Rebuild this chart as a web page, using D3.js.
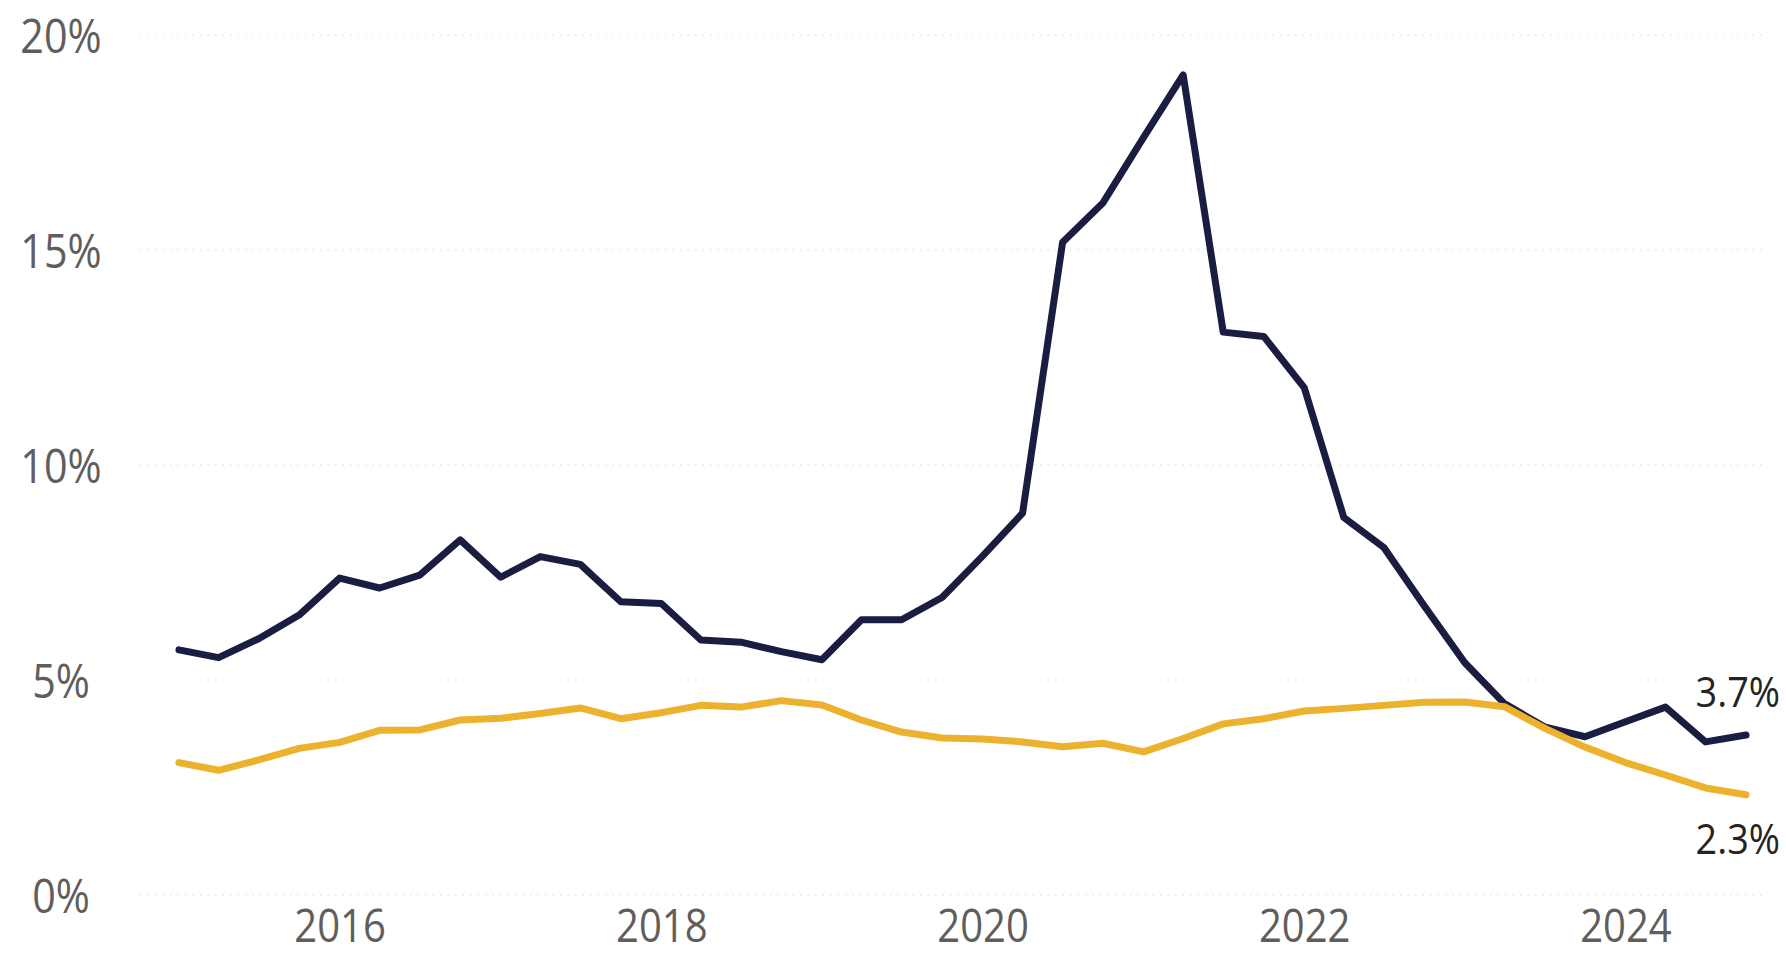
<!DOCTYPE html>
<html>
<head>
<meta charset="utf-8">
<script src="https://cdn.jsdelivr.net/npm/d3@7"></script>
<style>
  html, body { margin: 0; padding: 0; background: #fff; }
  svg { display: block; font-family: "Open Sans", "Noto Sans", sans-serif; }
</style>
</head>
<body>
<script>
// quarterly observations, start of each quarter
const quarters = [
  "2015-01-01", "2015-04-01", "2015-07-01", "2015-10-01",
  "2016-01-01", "2016-04-01", "2016-07-01", "2016-10-01",
  "2017-01-01", "2017-04-01", "2017-07-01", "2017-10-01",
  "2018-01-01", "2018-04-01", "2018-07-01", "2018-10-01",
  "2019-01-01", "2019-04-01", "2019-07-01", "2019-10-01",
  "2020-01-01", "2020-04-01", "2020-07-01", "2020-10-01",
  "2021-01-01", "2021-04-01", "2021-07-01", "2021-10-01",
  "2022-01-01", "2022-04-01", "2022-07-01", "2022-10-01",
  "2023-01-01", "2023-04-01", "2023-07-01", "2023-10-01",
  "2024-01-01", "2024-04-01", "2024-07-01", "2024-10-01"
];

// navy series (%)
const navyValues = [
  5.70, 5.52, 5.96, 6.51, 7.37, 7.14, 7.44, 8.26,
  7.39, 7.87, 7.69, 6.82, 6.78, 5.93, 5.88, 5.66,
  5.47, 6.40, 6.40, 6.92, 7.88, 8.88, 15.18, 16.10,
  17.62, 19.07, 13.09, 12.99, 11.80, 8.78, 8.08, 6.72,
  5.40, 4.45, 3.91, 3.68, 4.03, 4.37, 3.56, 3.72
];

// gold series (%)
const goldValues = [
  3.08, 2.90, 3.14, 3.41, 3.55, 3.83, 3.84, 4.07,
  4.11, 4.22, 4.35, 4.10, 4.24, 4.41, 4.37, 4.52,
  4.42, 4.07, 3.79, 3.65, 3.63, 3.56, 3.45, 3.53,
  3.33, 3.64, 3.98, 4.10, 4.28, 4.34, 4.41, 4.48,
  4.49, 4.38, 3.88, 3.44, 3.08, 2.79, 2.49, 2.33
];

const yTicks = [0, 5, 10, 15, 20];

const width = 1786, height = 959;
const parse = d3.timeParse("%Y-%m-%d");
const dates = quarters.map(parse);

const svg = d3.select("body")
  .append("svg")
  .attr("width", width)
  .attr("height", height);

const x = d3.scaleTime()
  .domain(d3.extent(dates))
  .range([179, 1746]);

const y = d3.scaleLinear()
  .domain([0, 20])
  .range([895, 35]);

// faint dotted gridlines
svg.append("g")
  .selectAll("line")
  .data(yTicks)
  .join("line")
  .attr("x1", 140)
  .attr("x2", 1765)
  .attr("y1", d => y(d))
  .attr("y2", d => y(d))
  .attr("stroke", "#e8e8e8")
  .attr("stroke-width", 1.5)
  .attr("stroke-dasharray", "1.5,6");

// y axis
const yAxis = svg.append("g")
  .attr("transform", "translate(61,0)")
  .call(d3.axisLeft(y).tickValues(yTicks).tickSize(0).tickPadding(0)
    .tickFormat(d => d + "%"));
yAxis.select(".domain").remove();
yAxis.selectAll("text")
  .attr("text-anchor", "middle")
  .attr("dy", "0.36em")
  .attr("transform", "scale(0.86,1)")
  .style("font-size", "48px")
  .style("font-family", "'Open Sans', 'Noto Sans', sans-serif")
  .attr("fill", "#605e5c");

// x axis
const xAxis = svg.append("g")
  .attr("transform", `translate(0,${y(0)})`)
  .call(d3.axisBottom(x).ticks(d3.timeYear.every(2)).tickSize(0).tickPadding(15)
    .tickFormat(d3.timeFormat("%Y")));
xAxis.select(".domain").remove();
xAxis.selectAll("text")
  .attr("transform", "scale(0.89,1)")
  .style("font-size", "45px")
  .style("font-family", "'Open Sans', 'Noto Sans', sans-serif")
  .attr("fill", "#605e5c");

const line = d3.line()
  .x((d, i) => x(dates[i]))
  .y(d => y(d));

svg.append("path")
  .datum(navyValues)
  .attr("fill", "none")
  .attr("stroke", "#1a1c42")
  .attr("stroke-width", 7)
  .attr("stroke-linejoin", "round")
  .attr("stroke-linecap", "round")
  .attr("d", line);

svg.append("path")
  .datum(goldValues)
  .attr("fill", "none")
  .attr("stroke", "#ecb22e")
  .attr("stroke-width", 7)
  .attr("stroke-linejoin", "round")
  .attr("stroke-linecap", "round")
  .attr("d", line);

// end labels
const fmt = d => d3.format(".1f")(d) + "%";
const last = dates.length - 1;
const endLabels = [
  { v: navyValues[last], off: -43 },
  { v: goldValues[last], off: 44 }
];

svg.append("g")
  .selectAll("g")
  .data(endLabels)
  .join("g")
  .attr("transform", d => `translate(1780,${y(d.v) + d.off})`)
  .append("text")
  .attr("transform", "scale(0.9,1)")
  .attr("text-anchor", "end")
  .attr("dy", "0.36em")
  .style("font-size", "42px")
  .attr("fill", "#252423")
  .text(d => fmt(d.v));
</script>
</body>
</html>
